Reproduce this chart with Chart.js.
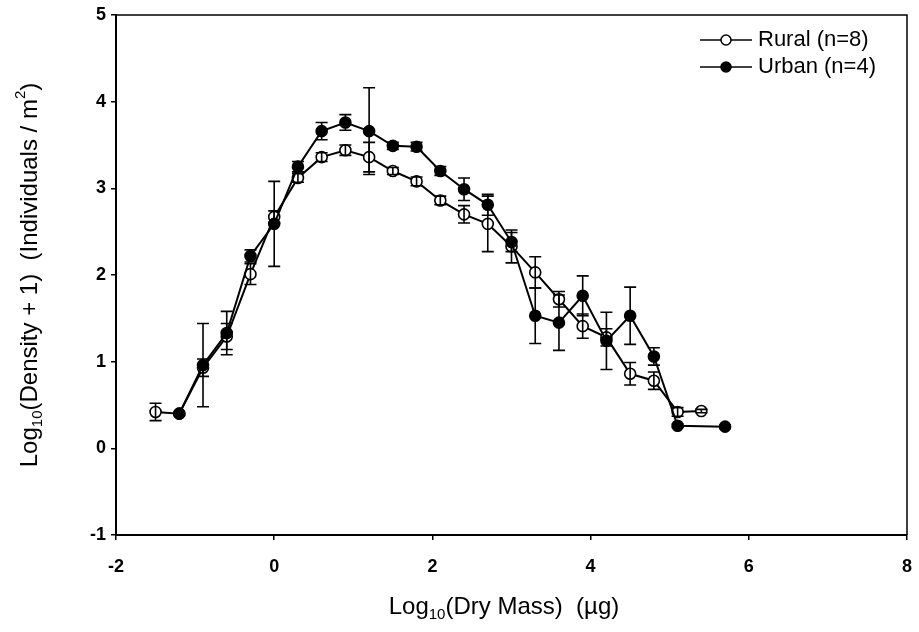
<!DOCTYPE html>
<html lang="en">
<head>
    <meta charset="UTF-8">
    <title>Density vs Dry Mass</title>
    <script src="https://cdn.jsdelivr.net/npm/chart.js"></script>
    <style>
        body { margin: 0; background: #fff; }
        #wrap { width: 919px; height: 632px; }
    </style>
</head>
<body>
    <div id="wrap"><canvas id="grafico" width="919" height="632"></canvas></div>

    <script>
        // log10 dry mass classes
        const massClasses = [-1.5, -1.2, -0.9, -0.6, -0.3, 0, 0.3, 0.6, 0.9, 1.2, 1.5, 1.8, 2.1, 2.4, 2.7, 3.0, 3.3, 3.6, 3.9, 4.2, 4.5, 4.8, 5.1, 5.4, 5.7];

        const ruralMean = [0.42, 0.40, 0.93, 1.29, 2.01, 2.67, 3.12, 3.36, 3.44, 3.36, 3.20, 3.08, 2.86, 2.70, 2.59, 2.33, 2.03, 1.72, 1.41, 1.28, 0.86, 0.78, 0.42, 0.43, null];
        const ruralErr  = [0.10, 0.00, 0.10, 0.15, 0.12, 0.07, 0.05, 0.05, 0.06, 0.17, 0.04, 0.05, 0.05, 0.10, 0.32, 0.19, 0.18, 0.09, 0.14, 0.10, 0.13, 0.10, 0.05, 0.02, null];

        const urbanMean = [null, 0.40, 0.96, 1.33, 2.22, 2.59, 3.25, 3.66, 3.76, 3.66, 3.49, 3.48, 3.20, 2.99, 2.81, 2.38, 1.53, 1.45, 1.76, 1.24, 1.53, 1.06, 0.26, null, 0.25];
        const urbanErr  = [null, 0.02, 0.48, 0.25, 0.07, 0.49, 0.06, 0.10, 0.09, 0.50, 0.04, 0.05, 0.05, 0.13, 0.12, 0.11, 0.32, 0.32, 0.23, 0.33, 0.33, 0.10, 0.02, null, 0.02];

        const xTicks = [-2, 0, 2, 4, 6, 8];
        const yTicks = [-1, 0, 1, 2, 3, 4, 5];

        const legendLabels = ['Rural (n=8)', 'Urban (n=4)'];

        const fonte = '"Liberation Sans", Arial, sans-serif';

        function toPoints(values) {
            return massClasses.map((x, i) => ({ x: x, y: values[i] }));
        }

        // text with sub / superscripts, drawn centred on (cx, cy)
        function drawRich(ctx, parts, cx, cy, rotate) {
            const big = '24px ' + fonte;
            const small = '15px ' + fonte;
            let total = 0;
            parts.forEach(p => {
                ctx.font = p.sub || p.sup ? small : big;
                p.w = ctx.measureText(p.t).width;
                total += p.w;
            });
            ctx.save();
            ctx.translate(cx, cy);
            if (rotate) ctx.rotate(-Math.PI / 2);
            ctx.fillStyle = '#000';
            ctx.textBaseline = 'middle';
            ctx.textAlign = 'left';
            let x = -total / 2;
            parts.forEach(p => {
                ctx.font = p.sub || p.sup ? small : big;
                let dy = 0;
                if (p.sub) dy = 8;
                if (p.sup) dy = -9;
                ctx.fillText(p.t, x, dy);
                x += p.w;
            });
            ctx.restore();
        }

        const errorBars = {
            id: 'errorBars',
            afterDatasetsDraw(chart) {
                const ctx = chart.ctx;
                const xs = chart.scales.x;
                const ys = chart.scales.y;
                const sets = [[ruralMean, ruralErr], [urbanMean, urbanErr]];
                ctx.save();
                ctx.strokeStyle = '#000';
                ctx.lineWidth = 1.6;
                sets.forEach(([mean, err]) => {
                    massClasses.forEach((m, i) => {
                        if (mean[i] === null || !err[i]) return;
                        const px = xs.getPixelForValue(m);
                        const top = ys.getPixelForValue(mean[i] + err[i]);
                        const bot = ys.getPixelForValue(mean[i] - err[i]);
                        ctx.beginPath();
                        ctx.moveTo(px, top); ctx.lineTo(px, bot);
                        ctx.moveTo(px - 6, top); ctx.lineTo(px + 6, top);
                        ctx.moveTo(px - 6, bot); ctx.lineTo(px + 6, bot);
                        ctx.stroke();
                    });
                });
                ctx.restore();
            }
        };

        const moldura = {
            id: 'moldura',
            afterDraw(chart) {
                const ctx = chart.ctx;
                const a = chart.chartArea;
                ctx.save();
                ctx.strokeStyle = '#000';
                ctx.lineWidth = 1.5;
                ctx.beginPath();
                ctx.moveTo(a.left, a.top); ctx.lineTo(a.right, a.top); ctx.lineTo(a.right, a.bottom);
                ctx.stroke();

                // legend
                const rows = [{ y: 40, fill: '#fff' }, { y: 67, fill: '#000' }];
                rows.forEach((r, i) => {
                    ctx.lineWidth = 1.5;
                    ctx.beginPath();
                    ctx.moveTo(700, r.y); ctx.lineTo(752, r.y);
                    ctx.stroke();
                    ctx.beginPath();
                    ctx.arc(726, r.y, 5, 0, Math.PI * 2);
                    ctx.fillStyle = r.fill;
                    ctx.fill();
                    ctx.stroke();
                    ctx.fillStyle = '#000';
                    ctx.font = '22px ' + fonte;
                    ctx.textBaseline = 'middle';
                    ctx.textAlign = 'left';
                    ctx.fillText(legendLabels[i], 758, r.y);
                });

                // axis titles
                drawRich(ctx, [{ t: 'Log' }, { t: '10', sub: true }, { t: '(Dry Mass)  (\u00b5g)' }], 504, 607, false);
                drawRich(ctx, [{ t: 'Log' }, { t: '10', sub: true }, { t: '(Density + 1)  (Individuals / m' }, { t: '2', sup: true }, { t: ')' }], 30, 275, true);
                ctx.restore();
            }
        };

        new Chart(document.getElementById('grafico'), {
            type: 'scatter',
            data: {
                datasets: [{
                    label: legendLabels[0],
                    data: toPoints(ruralMean),
                    order: 1,
                    showLine: true,
                    spanGaps: true,
                    borderColor: '#000',
                    borderWidth: 2,
                    pointRadius: 5.5,
                    pointBorderWidth: 1.6,
                    pointBackgroundColor: '#fff',
                    pointBorderColor: '#000'
                }, {
                    label: legendLabels[1],
                    data: toPoints(urbanMean),
                    order: 0,
                    showLine: true,
                    spanGaps: true,
                    borderColor: '#000',
                    borderWidth: 2,
                    pointRadius: 5.5,
                    pointBorderWidth: 1.6,
                    pointBackgroundColor: '#000',
                    pointBorderColor: '#000'
                }]
            },
            options: {
                responsive: false,
                animation: false,
                layout: { padding: { left: 0, right: 12, top: 15, bottom: 0 } },
                plugins: {
                    legend: { display: false },
                    tooltip: { enabled: false }
                },
                scales: {
                    x: {
                        type: 'linear',
                        min: -2,
                        max: 8,
                        afterFit: s => { s.height = 97; s.paddingLeft = 0; s.paddingRight = 0; },
                        afterBuildTicks: s => { s.ticks = xTicks.map(v => ({ value: v })); },
                        grid: { display: true, drawOnChartArea: false, drawTicks: true, tickLength: 5, color: '#000', lineWidth: 1.5 },
                        border: { display: true, color: '#000', width: 2 },
                        ticks: { color: '#000', padding: 16, maxRotation: 0, font: { family: fonte, size: 18, weight: 'bold' } }
                    },
                    y: {
                        type: 'linear',
                        min: -1,
                        max: 5,
                        afterFit: s => { s.width = 116; s.paddingTop = 0; s.paddingBottom = 0; },
                        afterBuildTicks: s => { s.ticks = yTicks.map(v => ({ value: v })); },
                        grid: { display: true, drawOnChartArea: false, drawTicks: true, tickLength: 5, color: '#000', lineWidth: 1.5 },
                        border: { display: true, color: '#000', width: 2 },
                        ticks: { color: '#000', padding: 5, font: { family: fonte, size: 18, weight: 'bold' } }
                    }
                }
            },
            plugins: [errorBars, moldura]
        });
    </script>
</body>
</html>
